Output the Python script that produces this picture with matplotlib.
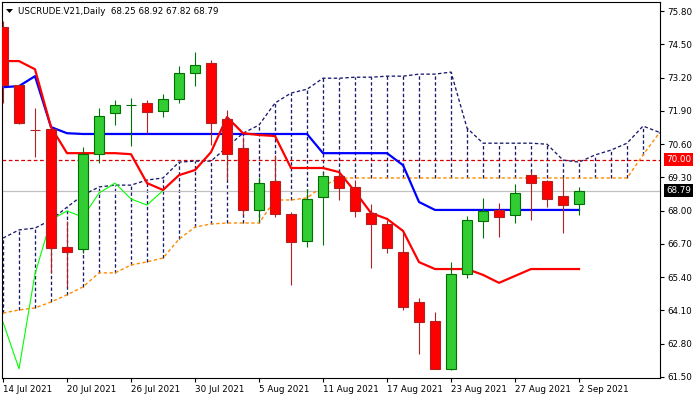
import matplotlib
matplotlib.use('Agg')
import matplotlib.pyplot as plt
from matplotlib.patches import Polygon
import numpy as np

# tick labels on the time axis (every 4th bar)
date_labels = ['14 Jul 2021', '20 Jul 2021', '26 Jul 2021', '30 Jul 2021', '5 Aug 2021',
               '11 Aug 2021', '17 Aug 2021', '23 Aug 2021', '27 Aug 2021', '2 Sep 2021']
date_bars = [0, 4, 8, 12, 16, 20, 24, 28, 32, 36]

# daily candles, 14 Jul .. 2 Sep 2021
opens = [75.17, 72.91, 71.16, 71.19, 66.58, 66.50, 70.21, 71.82, 72.12, 72.21,
         71.89, 72.36, 73.38, 73.77, 71.58, 70.45, 68.03, 69.16, 67.87, 66.82,
         68.53, 69.35, 68.93, 67.91, 67.48, 66.39, 64.43, 63.69, 61.82, 65.53,
         67.60, 68.03, 67.83, 69.39, 69.16, 68.57, 68.25]
highs = [75.41, 72.93, 72.01, 71.22, 67.60, 70.49, 72.01, 72.32, 72.40, 72.32,
         72.56, 73.65, 74.20, 73.89, 71.93, 70.90, 69.32, 70.17, 67.95, 68.85,
         69.51, 69.55, 69.20, 68.26, 67.64, 67.17, 64.59, 64.04, 66.00, 67.79,
         68.50, 68.30, 69.04, 69.55, 69.20, 69.28, 68.92]
lows = [72.21, 71.39, 70.10, 65.57, 65.02, 66.35, 69.86, 71.35, 70.53, 71.03,
        71.66, 72.21, 72.87, 70.57, 69.20, 67.83, 67.56, 67.75, 65.10, 66.58,
        66.66, 68.42, 67.75, 65.76, 66.35, 64.12, 62.40, 61.82, 61.78, 65.37,
        66.93, 66.97, 67.52, 67.64, 68.14, 67.13, 67.82]
closes = [72.91, 71.43, 71.14, 66.54, 66.39, 70.21, 71.70, 72.13, 72.14, 71.85,
          72.36, 73.38, 73.69, 71.43, 70.21, 68.03, 69.08, 67.87, 66.78, 68.46,
          69.35, 68.89, 68.00, 67.48, 66.54, 64.24, 63.65, 61.82, 65.53, 67.64,
          67.99, 67.75, 68.69, 69.08, 68.46, 68.22, 68.79]

# Ichimoku lines
tenkan = [73.85, 73.85, 73.53, 71.27, 70.25, 70.25, 70.25, 70.25, 70.21, 69.08,
          68.81, 69.39, 69.59, 70.29, 71.66, 71.03, 70.96, 70.92, 69.67, 69.67,
          69.67, 69.51, 68.75, 67.91, 67.68, 67.21, 65.99, 65.72, 65.72, 65.72,
          65.49, 65.18, 65.45, 65.72, 65.72, 65.72, 65.72]
kijun = [72.83, 72.87, 73.26, 71.27, 71.03] + [71.00] * 15 + [70.25] * 5 + [69.78, 68.34] + [68.03] * 10
chikou = [63.65, 61.82, 65.53, 67.64, 67.99, 67.75, 68.69, 69.08, 68.46, 68.22, 68.79]
span_b = [66.93, 67.25, 67.32, 67.64, 68.14, 68.61, 68.93, 69.00, 69.00, 69.20,
          69.28, 69.90, 69.94, 69.94, 70.49, 71.03, 71.35, 72.21, 72.60, 72.75,
          73.18, 73.18, 73.22, 73.22, 73.26, 73.26, 73.34, 73.34, 73.42, 71.23,
          70.64, 70.64, 70.64, 70.64, 70.60, 69.98, 69.90, 70.18, 70.37, 70.64,
          71.31, 71.07]
span_a = [64.00, 64.12, 64.20, 64.43, 64.71, 65.02, 65.57, 65.57, 65.88, 66.00,
          66.15, 66.89, 67.36, 67.48, 67.52, 67.52, 67.52, 68.42, 68.42, 68.50,
          68.96] + [69.28] * 19 + [70.18, 71.03]

y_ticks = [75.80, 74.50, 73.20, 71.90, 70.60, 69.30, 68.00, 66.70, 65.40, 64.10, 62.80, 61.50]
level_line = 70.00
last_price = 68.79
title = 'USCRUDE.V21,Daily  68.25 68.92 67.82 68.79'

plt.rcParams['font.family'] = 'DejaVu Sans'
FS = 6.3
navy = '#1a1a6a'
orange = '#FF8C00'

fig = plt.figure(figsize=(7, 4), dpi=100)
ax = fig.add_axes([2 / 700, 22 / 400, 658 / 700, 376 / 400])

x = np.arange(len(closes))
xc = np.arange(len(span_b))

# cloud hatching and spans
ax.vlines(xc, span_a, span_b, colors=navy, linestyles=(0, (2.6, 1.8)), lw=0.95, zorder=1)
ax.plot(xc, span_b, color=navy, lw=0.95, ls=(0, (2.6, 1.8)), zorder=2)
ax.plot(xc, span_a, color=orange, lw=1.0, ls=(0, (2.4, 1.8)), zorder=2)

ax.axhline(level_line, color='#D80000', lw=0.9, ls=(0, (3, 2)), zorder=1)
ax.axhline(last_price, color='#C0C0C0', lw=0.9, zorder=1)

ax.plot(np.arange(len(chikou)), chikou, color='#00FF00', lw=0.8, zorder=2)
ax.plot(x, kijun, color='#0000FF', lw=1.6, zorder=3)
ax.plot(x, tenkan, color='#FF0000', lw=1.6, zorder=3)

# candles
o = np.array(opens)
c = np.array(closes)
up = c >= o
wick_col = np.where(up, '#007000', '#B22222')
ax.vlines(x, lows, highs, colors=wick_col, lw=0.8, zorder=4)
body_col = np.where(up, '#32CD32', '#FF0000')
edge_col = np.where(up, '#007000', '#B22222')
ax.bar(x, np.maximum(np.abs(c - o), 0.02), bottom=np.minimum(o, c), width=0.64,
       color=body_col, edgecolor=edge_col, lw=0.8, zorder=5)

ax.set_xlim(-1 / 16, 41.06)
ax.set_ylim(61.46, 76.16)

ax.yaxis.tick_right()
ax.set_yticks(y_ticks)
ax.set_yticklabels(['%.2f' % v for v in y_ticks])
ax.set_xticks(date_bars)
ax.set_xticklabels(date_labels, ha='left')
ax.tick_params(axis='y', length=3, width=0.8, pad=2, labelsize=FS)
ax.tick_params(axis='x', length=3, width=0.8, pad=2, labelsize=FS)
for s in ax.spines.values():
    s.set_linewidth(0.8)

ytr = ax.get_yaxis_transform()
ax.text(1.009, level_line, '%.2f' % level_line, transform=ytr, ha='left', va='center',
        color='white', fontsize=FS, clip_on=False,
        bbox=dict(boxstyle='square,pad=0.25', fc='#FF0000', ec='none'))
ax.text(1.009, last_price, '%.2f' % last_price, transform=ytr, ha='left', va='center',
        color='white', fontsize=FS, clip_on=False,
        bbox=dict(boxstyle='square,pad=0.25', fc='black', ec='none'))

# chart header
fig.text(18 / 700, 1 - 11 / 400, title, fontsize=FS, va='center', ha='left')
fig.patches.append(Polygon([(6 / 700, 1 - 9 / 400), (13 / 700, 1 - 9 / 400), (9.5 / 700, 1 - 13 / 400)],
                           closed=True, transform=fig.transFigure, fc='black', ec='none'))

fig.savefig('out.png', dpi=100)
